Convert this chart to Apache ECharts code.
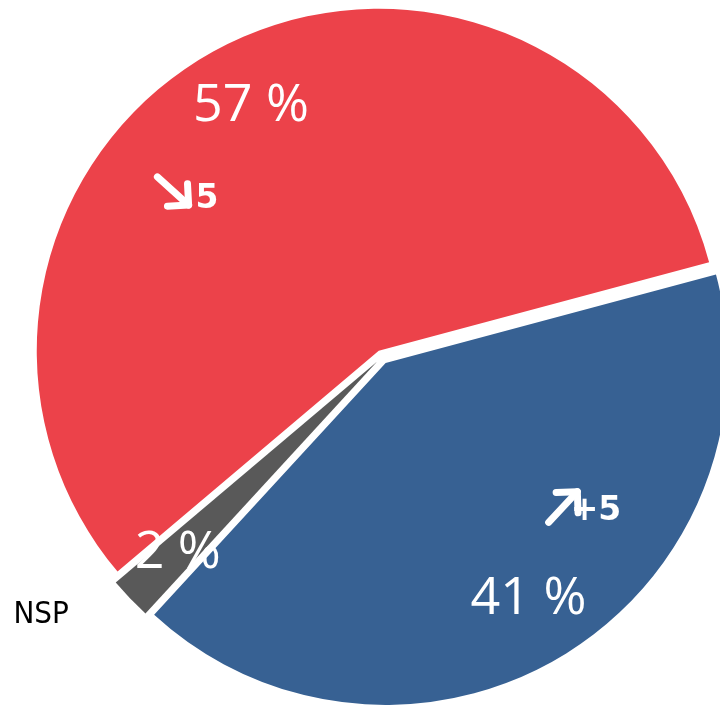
<!DOCTYPE html>
<html>
<head>
<meta charset="utf-8">
<script src="https://cdn.jsdelivr.net/npm/echarts@6/dist/echarts.min.js"></script>
<style>
html,body{margin:0;padding:0;background:#fff;}
#chart{width:720px;height:706px;}
</style>
</head>
<body>
<div id="chart"></div>
<script>
// Data
const categories = ['Blue', 'NSP', 'Red'];
const values = [41, 2, 57];
const colors = ['#376193', '#595959', '#EC424A'];
const deltaTexts = ['+5', '5'];
const deltaUp = [true, false];

const chart = echarts.init(document.getElementById('chart'));
const CX = 382, CY = 357, R = 342;

const mainData = categories.map((c, i) => ({
  name: c,
  value: values[i],
  selected: true,
  itemStyle: { color: colors[i] },
  label: c === 'NSP' ? { show: true } : { show: false }
}));

const labelData = categories.map((c, i) => ({
  name: c,
  value: values[i],
  selected: true
}));

function arrow(x, y, up) {
  const st = { stroke: '#fff', lineWidth: 7, lineCap: 'round', lineJoin: 'round', fill: null };
  return {
    type: 'group', x: x, y: y, z: 100,
    rotation: (up ? 47 : -42) * Math.PI / 180,
    children: [
      { type: 'polyline', z: 100, shape: { points: [[-21, 0], [21, 0]] }, style: st },
      { type: 'polyline', z: 100, shape: { points: [[6, -15], [21, 0], [6, 15]] }, style: st }
    ]
  };
}

chart.setOption({
  animation: false,
  series: [
    {
      type: 'pie',
      center: [CX, CY],
      radius: [0, R],
      startAngle: 15,
      clockwise: true,
      selectedMode: 'multiple',
      selectedOffset: 7,
      avoidLabelOverlap: false,
      silent: true,
      itemStyle: { borderWidth: 0 },
      label: {
        position: 'outside',
        formatter: '{b}',
        color: '#000',
        fontSize: 31,
        fontFamily: 'DejaVu Sans Condensed'
      },
      labelLine: { show: false, length: 24, length2: 39 },
      emphasis: { disabled: true },
      data: mainData
    },
    {
      type: 'pie',
      center: [CX, CY],
      radius: [204, R],
      startAngle: 15,
      clockwise: true,
      selectedMode: 'multiple',
      selectedOffset: 7,
      avoidLabelOverlap: false,
      silent: true,
      z: 5,
      itemStyle: { color: 'rgba(0,0,0,0)', borderWidth: 0 },
      label: {
        show: true,
        position: 'inside',
        formatter: '{c} %',
        color: '#fff',
        fontSize: 52,
        fontFamily: 'Open Sans'
      },
      labelLine: { show: false },
      emphasis: { disabled: true },
      data: labelData
    }
  ],
  graphic: [
    arrow(173, 191, deltaUp[1]),
    { type: 'text', z: 100, x: 207, y: 199, style: { text: deltaTexts[1], fill: '#fff', font: 'bold 33px "DejaVu Sans"', align: 'center', verticalAlign: 'middle' } },
    arrow(563, 507, deltaUp[0]),
    { type: 'text', z: 100, x: 596, y: 511, style: { text: deltaTexts[0], fill: '#fff', font: 'bold 33px "DejaVu Sans"', align: 'center', verticalAlign: 'middle' } }
  ]
});
</script>
</body>
</html>
